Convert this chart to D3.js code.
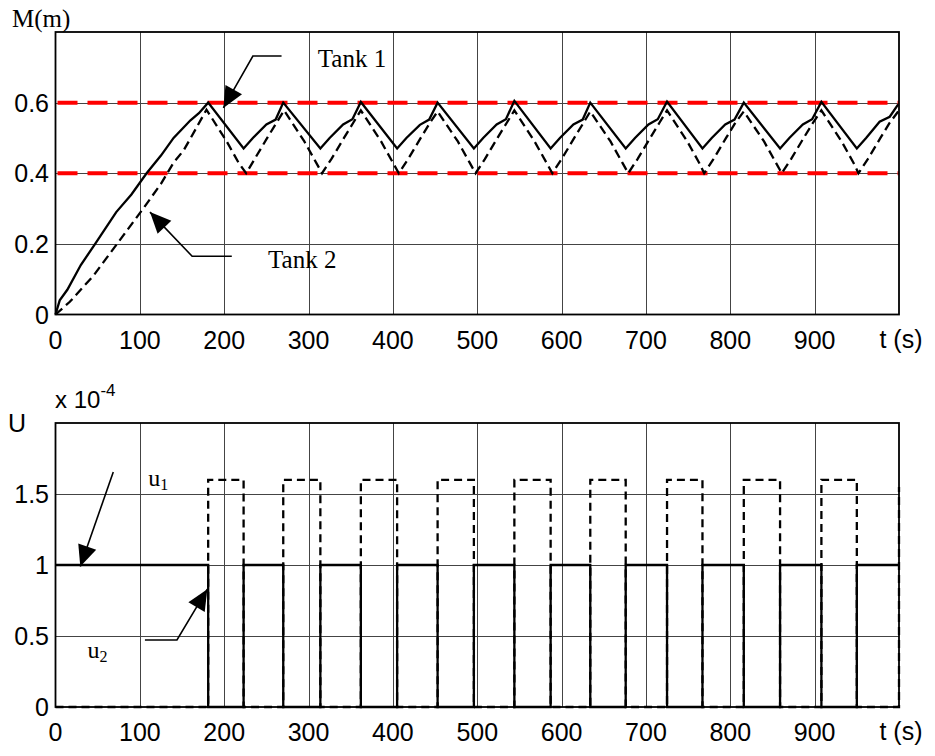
<!DOCTYPE html>
<html><head><meta charset="utf-8">
<script src="https://cdn.jsdelivr.net/npm/d3@7"></script>
<style>body{margin:0;background:#fff}svg{display:block}</style>
</head><body>
<script>
// ---- data ----
const tickTimes = [0,100,200,300,400,500,600,700,800,900];
const mTicks = [0,0.2,0.4,0.6];
const mTickLabels = ["0","0.2","0.4","0.6"];
const uTicks = [0,0.5,1,1.5];
const uTickLabels = ["0","0.5","1","1.5"];
const limitLines = [0.4, 0.6];

const tank1T = [0,5,14,30,47,72,90,108,125,140,160,170,181,
  223,234,250,261,270, 314,325,341,352,362, 405,416,432,443,453,
  496,507,523,534,544, 587,598,614,625,634, 676,687,703,714,725,
  767,778,794,805,816, 859,870,886,897,908, 950,961,977,989,999];
const tank1M = [0,0.04,0.07,0.14,0.2,0.29,0.34,0.4,0.45,0.5,0.55,0.57,0.6,
  0.47,0.5,0.538,0.552,0.6, 0.47,0.5,0.538,0.553,0.602, 0.47,0.5,0.537,0.552,0.6,
  0.47,0.5,0.538,0.553,0.605, 0.47,0.5,0.538,0.552,0.6, 0.47,0.5,0.538,0.553,0.603,
  0.47,0.5,0.538,0.552,0.6, 0.47,0.5,0.538,0.553,0.602, 0.47,0.5,0.546,0.56,0.595];

const tank2T = [0,17,45,73,104,125,140,152,165,179,
  203,217,226,236,251,262,271, 295,309,316,327,342,353,362,
  386,400,407,418,433,444,453, 477,491,498,509,524,535,544,
  568,582,589,600,615,626,634, 658,672,679,690,705,716,725,
  749,763,769,780,795,806,816, 840,854,861,872,887,898,908,
  932,946,952,963,978,989,999];
const tank2M = [0,0.036,0.11,0.2,0.3,0.37,0.43,0.465,0.52,0.58,
  0.49,0.43,0.4,0.44,0.5,0.543,0.578, 0.49,0.43,0.4,0.44,0.5,0.543,0.578,
  0.49,0.43,0.4,0.44,0.5,0.543,0.575, 0.49,0.43,0.4,0.44,0.5,0.543,0.578,
  0.49,0.43,0.4,0.44,0.5,0.543,0.575, 0.49,0.43,0.4,0.44,0.5,0.543,0.578,
  0.49,0.43,0.4,0.44,0.5,0.543,0.575, 0.49,0.43,0.4,0.44,0.5,0.543,0.578,
  0.49,0.43,0.4,0.44,0.5,0.543,0.575];

const uT  = [0,181,223,270,314,362,405,453,496,544,587,634,676,725,767,816,859,908,950,1000];
const u2V = [1,0,1,0,1,0,1,0,1,0,1,0,1,0,1,0,1,0,1,1];
const u1V = [0,1.6,0,1.6,0,1.6,0,1.6,0,1.6,0,1.6,0,1.6,0,1.6,0,1.6,0,1.55];

// ---- layout ----
const W = 935, H = 756;
const svg = d3.select("body").append("svg").attr("width", W).attr("height", H);
const sans = "'Liberation Sans', Arial, sans-serif";
const serif = "'Liberation Serif', 'Times New Roman', serif";

const x = d3.scaleLinear().domain([0,1000]).range([55.5, 899]);
const yTop = d3.scaleLinear().domain([0,0.8]).range([314.5, 32]);
const yBot = d3.scaleLinear().domain([0,2]).range([707, 423]);

function panel(y, ticks, labels) {
  const g = svg.append("g");
  g.selectAll(".vg").data(tickTimes.slice(1)).join("line")
    .attr("x1", d => Math.round(x(d))+0.5).attr("x2", d => Math.round(x(d))+0.5)
    .attr("y1", y.range()[1]).attr("y2", y.range()[0])
    .attr("stroke", "#444").attr("stroke-width", 1);
  g.selectAll(".hg").data(ticks.slice(1)).join("line")
    .attr("x1", x.range()[0]).attr("x2", x.range()[1])
    .attr("y1", d => Math.round(y(d))+0.5).attr("y2", d => Math.round(y(d))+0.5)
    .attr("stroke", "#444").attr("stroke-width", 1);
  g.selectAll(".xl").data(tickTimes).join("text")
    .attr("x", d => x(d)).attr("y", y.range()[0] + 34)
    .attr("text-anchor", "middle").attr("font-family", sans).attr("font-size", 25)
    .text(d => d);
  g.append("text").attr("x", x(1000)+2).attr("y", y.range()[0] + 33)
    .attr("text-anchor", "middle").attr("font-family", sans).attr("font-size", 25)
    .text("t (s)");
  g.selectAll(".yl").data(ticks).join("text")
    .attr("x", 49).attr("y", d => y(d) + 9)
    .attr("text-anchor", "end").attr("font-family", sans).attr("font-size", 25)
    .text((d,i) => labels[i]);
  return g;
}
function frame(y) {
  svg.append("rect").attr("x", x.range()[0]).attr("y", y.range()[1])
    .attr("width", x.range()[1]-x.range()[0]).attr("height", y.range()[0]-y.range()[1])
    .attr("fill", "none").attr("stroke", "#000").attr("stroke-width", 1.8);
}
function arrow(g, pts, sx, sy) {
  const p = pts.map(d => [sx(d[0]), sy(d[1])]);
  g.append("path").attr("d", d3.line()(p)).attr("fill","none").attr("stroke","#000").attr("stroke-width",1.6);
  const a = p[p.length-2], b = p[p.length-1];
  const dx = b[0]-a[0], dy = b[1]-a[1], L = Math.hypot(dx,dy);
  const ux = dx/L, uy = dy/L, len = 21, hw = 9.5;
  const bx = b[0]-ux*len, by = b[1]-uy*len;
  g.append("path").attr("d", d3.line()([b, [bx - uy*hw, by + ux*hw], [bx + uy*hw, by - ux*hw]]) + "Z")
    .attr("fill","#000");
}

// ---- top panel ----
const gt = panel(yTop, mTicks, mTickLabels);
gt.selectAll(".lim").data(limitLines).join("line")
  .attr("x1", x(0)+2).attr("x2", x(1000))
  .attr("y1", d => yTop(d)).attr("y2", d => yTop(d))
  .attr("stroke", "#ff0000").attr("stroke-width", 4).attr("stroke-dasharray", "20,10");
const lineTop = d3.line().x(d => x(d[0])).y(d => yTop(d[1]));
gt.append("path").datum(tank2T.map((t,i) => [t, tank2M[i]])).attr("d", lineTop)
  .attr("fill","none").attr("stroke","#000").attr("stroke-width",2.3).attr("stroke-dasharray","9,5");
gt.append("path").datum(tank1T.map((t,i) => [t, tank1M[i]])).attr("d", lineTop)
  .attr("fill","none").attr("stroke","#000").attr("stroke-width",2.3);
frame(yTop);
svg.append("text").attr("x", 12).attr("y", 27).attr("font-family", serif).attr("font-size", 25).text("M(m)");
arrow(svg, [[268,0.732],[234,0.732],[199,0.585]], x, yTop);
arrow(svg, [[209,0.165],[162,0.165],[112,0.29]], x, yTop);
svg.append("text").attr("x", x(311)).attr("y", yTop(0.702)).attr("font-family", serif).attr("font-size", 25).text("Tank 1");
svg.append("text").attr("x", x(252)).attr("y", yTop(0.131)).attr("font-family", serif).attr("font-size", 25).text("Tank 2");

// ---- bottom panel ----
const gb = panel(yBot, uTicks, uTickLabels);
const stepLine = d3.line().x(d => x(d[0])).y(d => yBot(d[1])).curve(d3.curveStepAfter);
gb.append("path").datum(uT.map((t,i) => [t, u1V[i]])).attr("d", stepLine)
  .attr("fill","none").attr("stroke","#000").attr("stroke-width",2.3).attr("stroke-dasharray","8,5");
gb.append("path").datum(uT.map((t,i) => [t, u2V[i]])).attr("d", stepLine)
  .attr("fill","none").attr("stroke","#000").attr("stroke-width",2.3);
frame(yBot);
svg.append("text").attr("x", 8).attr("y", 432).attr("font-family", sans).attr("font-size", 25).text("U");
const xt = svg.append("text").attr("x", 55).attr("y", 408).attr("font-family", sans).attr("font-size", 24);
xt.append("tspan").text("x 10");
xt.append("tspan").attr("dy", -12).attr("font-size", 17).text("-4");
arrow(svg, [[68.5,1.655],[29.4,0.99]], x, yBot);
arrow(svg, [[106,0.472],[144,0.472],[180,0.83]], x, yBot);
const u1 = svg.append("text").attr("x", x(110)).attr("y", yBot(1.556)).attr("font-family", serif).attr("font-size", 24);
u1.append("tspan").text("u");
u1.append("tspan").attr("dy", 4).attr("font-size", 16).text("1");
const u2 = svg.append("text").attr("x", x(38)).attr("y", yBot(0.345)).attr("font-family", serif).attr("font-size", 24);
u2.append("tspan").text("u");
u2.append("tspan").attr("dy", 4).attr("font-size", 16).text("2");
</script>
</body></html>
